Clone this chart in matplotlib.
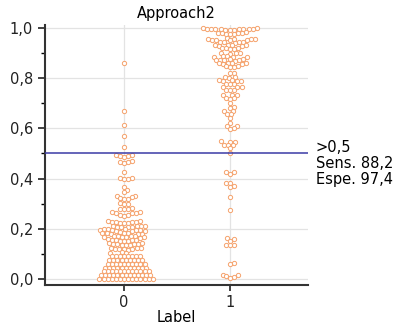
import matplotlib
matplotlib.use("Agg")
import matplotlib.pyplot as plt
import numpy as np

plt.rcParams['font.family'] = ['DejaVu Sans']

# Datos: probabilidad predicha por clase
labels = ['0', '1']

label0 = [
    0.86, 0.67, 0.615, 0.57, 0.525,
    0.494, 0.492, 0.490, 0.489, 0.487,
    0.468, 0.466, 0.465, 0.463,
    0.426,
    0.403, 0.401, 0.400, 0.398,
    0.366, 0.356, 0.345,
    0.332, 0.330, 0.328,
    0.321, 0.319, 0.318,
    0.302, 0.300, 0.298,
    0.282, 0.280, 0.279, 0.277,
    0.267, 0.266, 0.264, 0.263, 0.262,
    0.256, 0.254, 0.252,
    0.230, 0.229, 0.228, 0.227, 0.226, 0.225, 0.224, 0.223, 0.222,
    0.212, 0.211, 0.210, 0.209, 0.208, 0.207, 0.206, 0.205,
    0.199, 0.198, 0.197, 0.196, 0.195, 0.194, 0.193, 0.192, 0.191, 0.190,
    0.185, 0.184, 0.183, 0.182, 0.181, 0.180, 0.179, 0.178,
    0.172, 0.171, 0.170, 0.169, 0.168, 0.167, 0.166, 0.165, 0.164,
    0.158, 0.157, 0.156, 0.155, 0.154, 0.153, 0.152, 0.151,
    0.143, 0.142, 0.141, 0.140, 0.139, 0.138, 0.137, 0.136, 0.135,
    0.124, 0.123, 0.122, 0.121, 0.120, 0.119, 0.118, 0.117,
    0.106, 0.105, 0.104,
    0.090, 0.090, 0.090, 0.090, 0.090, 0.090, 0.090, 0.090,
    0.075, 0.075, 0.075, 0.075, 0.075, 0.075, 0.075, 0.075, 0.075,
    0.060, 0.060, 0.060, 0.060, 0.060, 0.060, 0.060, 0.060, 0.060, 0.060,
    0.045, 0.045, 0.045, 0.045, 0.045, 0.045, 0.045, 0.045, 0.045, 0.045, 0.045,
    0.030, 0.030, 0.030, 0.030, 0.030, 0.030, 0.030, 0.030, 0.030, 0.030, 0.030, 0.030,
    0.015, 0.015, 0.015, 0.015, 0.015, 0.015, 0.015, 0.015, 0.015, 0.015, 0.015, 0.015, 0.015,
    0.000, 0.000, 0.000, 0.000, 0.000, 0.000, 0.000, 0.000, 0.000, 0.000, 0.000, 0.000, 0.000, 0.000,
]

label1 = [
    0.999, 0.999, 0.998, 0.998, 0.997, 0.997, 0.996, 0.996, 0.995, 0.995, 0.994, 0.994, 0.993,
    0.983, 0.982, 0.981, 0.980, 0.979, 0.978, 0.977, 0.976,
    0.959, 0.958, 0.957, 0.956, 0.955, 0.954, 0.953, 0.952, 0.951,
    0.946, 0.945, 0.944, 0.943, 0.942,
    0.934, 0.933, 0.932, 0.931, 0.930, 0.929,
    0.921, 0.920, 0.919, 0.918, 0.917,
    0.901, 0.900, 0.899, 0.898,
    0.888, 0.887, 0.886, 0.885, 0.884,
    0.876, 0.875, 0.874, 0.873, 0.872, 0.871, 0.870,
    0.862, 0.861, 0.860, 0.859, 0.858, 0.857,
    0.848, 0.847, 0.846, 0.845,
    0.821, 0.819,
    0.804, 0.803, 0.802,
    0.792, 0.791, 0.790, 0.789, 0.788,
    0.778, 0.777, 0.776,
    0.765, 0.764, 0.763,
    0.754, 0.753, 0.752,
    0.734, 0.733, 0.732,
    0.721, 0.720, 0.719,
    0.700,
    0.685, 0.683,
    0.671, 0.669,
    0.658, 0.656,
    0.640,
    0.623,
    0.611, 0.609,
    0.601, 0.599,
    0.548, 0.547, 0.546,
    0.535, 0.534, 0.533,
    0.520,
    0.502,
    0.427, 0.425, 0.420,
    0.384, 0.382, 0.370, 0.365,
    0.328, 0.275,
    0.163, 0.161, 0.153,
    0.136, 0.135, 0.134,
    0.065, 0.060,
    0.017, 0.015, 0.010, 0.009, 0.005,
]

umbral = 0.5
sens = 88.2
espe = 97.4

color_borde = '#F5A26C'
color_linea = '#3B3BA5'
color_grid = '#E3E3E3'
color_eje = '#333333'


def swarm_x(ax, valores, xc, d):
    # coloca los puntos en pixeles sin solaparse (beeswarm)
    pts = ax.transData.transform(np.column_stack([np.full(len(valores), xc), valores]))
    ys = pts[:, 1]
    x0 = pts[0, 0]
    offs = np.zeros(len(valores))
    puestos = []
    for i in np.argsort(ys, kind='stable'):
        y = ys[i]
        cerca = [(px, py) for px, py in puestos if abs(py - y) < d]
        cands = [0.0]
        for px, py in cerca:
            dx = np.sqrt(d * d - (py - y) ** 2)
            cands += [px + dx, px - dx]
        cands.sort(key=lambda c: (round(abs(c), 6), -c))
        elegido = 0.0
        for c in cands:
            if all((c - px) ** 2 + (y - py) ** 2 >= d * d - 1e-6 for px, py in cerca):
                elegido = c
                break
        offs[i] = elegido
        puestos.append((elegido, y))
    return ax.transData.inverted().transform(np.column_stack([x0 + offs, ys]))[:, 0]


fig = plt.figure(figsize=(4.05, 3.29), dpi=100)
ax = fig.add_axes([0.111, 0.134, 0.650, 0.790])
ax.set_xlim(-0.745, 1.736)
ax.set_ylim(-0.024, 1.012)

# Rejilla
for yv in [0, 0.2, 0.4, 0.6, 0.8, 1.0]:
    ax.axhline(yv, color=color_grid, lw=0.9, zorder=0)
for xv in range(len(labels)):
    ax.axvline(xv, color=color_grid, lw=0.9, zorder=0)

# Puntos
for k, valores in enumerate([label0, label1]):
    xs = swarm_x(ax, valores, k, 4.1)
    ax.scatter(xs, valores, s=9.5, facecolors='white', edgecolors=color_borde,
               linewidths=0.7, zorder=3)

# Umbral
ax.axhline(umbral, color=color_linea, lw=1.1, zorder=4)

ax.set_xticks(range(len(labels)))
ax.set_xticklabels(labels)
ax.set_yticks([0, 0.2, 0.4, 0.6, 0.8, 1.0])
ax.set_yticks([0.1, 0.3, 0.5, 0.7, 0.9], minor=True)
ax.set_yticklabels(['0,0', '0,2', '0,4', '0,6', '0,8', '1,0'])
ax.tick_params(axis='both', labelsize=10.5, colors='#222222', width=1.2)
ax.tick_params(axis='y', which='major', length=5)
ax.tick_params(axis='y', which='minor', length=3, width=1.0)
ax.tick_params(axis='x', length=4)

for lado in ['top', 'right']:
    ax.spines[lado].set_visible(False)
for lado in ['left', 'bottom']:
    ax.spines[lado].set_color(color_eje)
    ax.spines[lado].set_linewidth(1.5)

ax.set_title('Approach2', fontsize=10.5, pad=5)
ax.set_xlabel('Label', fontsize=10.5, labelpad=0)

fig.text(0.78, 0.551, '>0,5', fontsize=10.5, va='center')
fig.text(0.78, 0.503, 'Sens. ' + str(sens).replace('.', ','), fontsize=10.5, va='center')
fig.text(0.78, 0.455, 'Espe. ' + str(espe).replace('.', ','), fontsize=10.5, va='center')

fig.savefig('out.png', dpi=100)
